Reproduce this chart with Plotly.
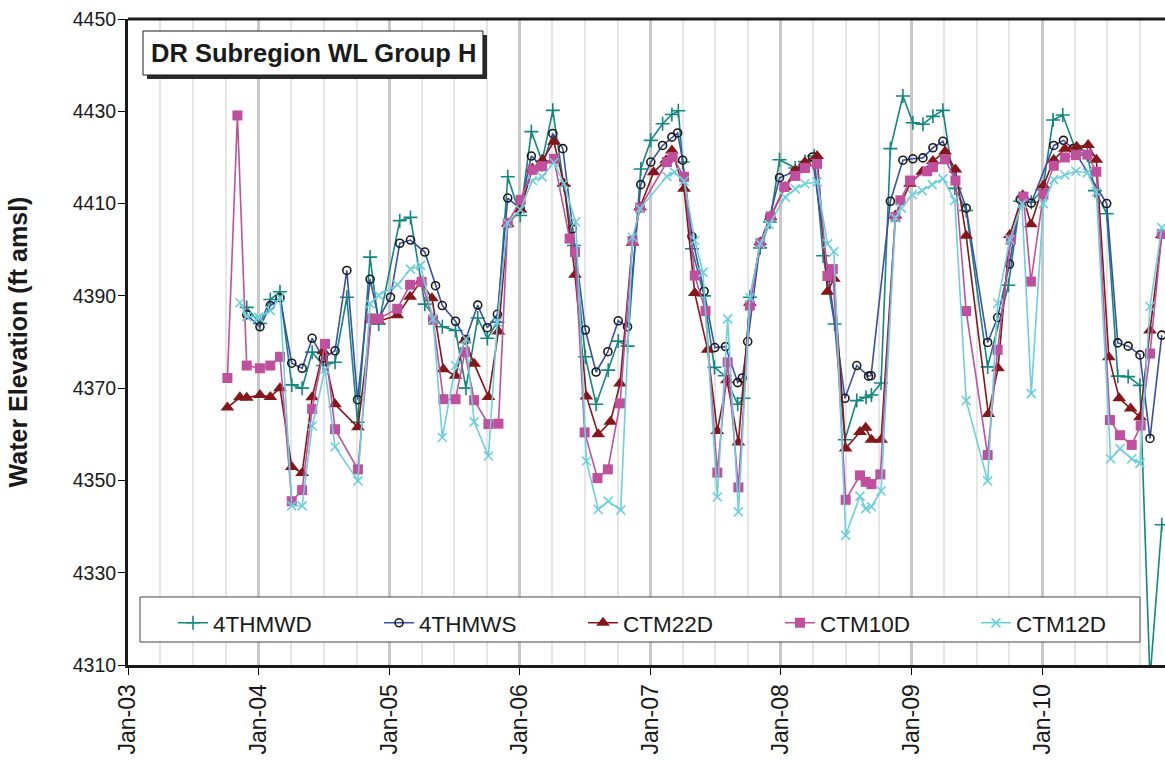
import plotly.graph_objects as go

# ---- 4THMWD ----
d_4thmwd = ["2003-11-29", "2004-01-05", "2004-02-03", "2004-03-01", "2004-04-03", "2004-05-02",
            "2004-05-30", "2004-06-30", "2004-08-02", "2004-09-04", "2004-10-04", "2004-11-08",
            "2004-12-02", "2005-01-30", "2005-03-01", "2005-04-10", "2005-05-29", "2005-07-05",
            "2005-08-03", "2005-09-05", "2005-10-02", "2005-10-30", "2005-11-28", "2006-01-02",
            "2006-02-02", "2006-03-04", "2006-04-03", "2006-05-04", "2006-06-01", "2006-07-03",
            "2006-08-02", "2006-09-05", "2006-10-03", "2006-10-29", "2006-12-05", "2007-01-02",
            "2007-02-04", "2007-03-02", "2007-03-20", "2007-04-01", "2007-04-27", "2007-05-31",
            "2007-06-29", "2007-07-28", "2007-09-02", "2007-09-18", "2007-10-06", "2007-11-04",
            "2007-12-01", "2007-12-28", "2008-02-10", "2008-03-08", "2008-04-03", "2008-04-28",
            "2008-05-30", "2008-06-28", "2008-07-31", "2008-08-26", "2008-09-10", "2008-10-07",
            "2008-11-02", "2008-12-07", "2009-01-04", "2009-02-01", "2009-03-01", "2009-03-29",
            "2009-05-01", "2009-06-02", "2009-08-01", "2009-09-28", "2009-10-31", "2009-12-01",
            "2010-01-02", "2010-01-31", "2010-02-27", "2010-04-05", "2010-05-07", "2010-05-28",
            "2010-06-30", "2010-07-31", "2010-08-29", "2010-10-01", "2010-10-29", "2010-12-01"]
v_4thmwd = [4387.5, 4384.0, 4389.2, 4390.9, 4370.7, 4370.0,
            4377.8, 4374.9, 4375.6, 4389.7, 4362.6, 4398.4,
            4383.9, 4406.3, 4407.0, 4388.2, 4383.3, 4382.5,
            4370.0, 4385.2, 4380.8, 4384.3, 4415.8, 4407.4,
            4425.6, 4419.2, 4430.2, 4413.9, 4400.9, 4376.8,
            4366.5, 4373.9, 4380.2, 4379.1, 4417.5, 4423.7,
            4427.3, 4429.3, 4430.1, 4419.0, 4400.2, 4390.0,
            4374.5, 4372.7, 4366.5, 4367.8, 4389.7, 4400.4,
            4406.0, 4419.5, 4417.7, 4419.1, 4420.3, 4398.7,
            4383.9, 4358.8, 4367.3, 4368.0, 4368.5, 4371.1,
            4421.9, 4433.3, 4427.5, 4427.2, 4428.9, 4430.2,
            4413.3, 4408.5, 4374.6, 4392.3, 4410.5, 4410.3,
            4413.0, 4428.1, 4429.2, 4421.5, 4420.5, 4412.8,
            4407.8, 4372.6, 4372.5, 4370.6, 4307.0, 4340.4]

# ---- 4THMWS ----
d_4thmws = ["2003-11-29", "2004-01-05", "2004-02-03", "2004-03-01", "2004-04-03", "2004-05-02",
            "2004-05-30", "2004-06-30", "2004-08-02", "2004-09-04", "2004-10-04", "2004-11-08",
            "2004-12-02", "2005-01-04", "2005-01-30", "2005-03-01", "2005-04-10", "2005-05-10",
            "2005-05-29", "2005-07-05", "2005-08-02", "2005-09-05", "2005-10-02", "2005-10-30",
            "2005-11-28", "2006-01-02", "2006-02-02", "2006-03-04", "2006-04-03", "2006-05-01",
            "2006-05-28", "2006-07-03", "2006-08-02", "2006-09-04", "2006-10-03", "2006-10-29",
            "2006-12-05", "2007-01-02", "2007-02-04", "2007-03-02", "2007-03-18", "2007-04-01",
            "2007-04-27", "2007-05-31", "2007-06-30", "2007-07-30", "2007-09-02", "2007-09-15",
            "2007-09-30", "2007-11-04", "2007-12-01", "2007-12-28", "2008-02-10", "2008-03-08",
            "2008-03-29", "2008-06-28", "2008-07-31", "2008-09-02", "2008-09-09", "2008-11-02",
            "2008-12-07", "2009-01-04", "2009-02-01", "2009-03-01", "2009-03-29", "2009-06-02",
            "2009-08-01", "2009-08-29", "2009-10-01", "2009-10-31", "2009-12-01", "2010-02-02",
            "2010-03-01", "2010-03-28", "2010-06-30", "2010-07-31", "2010-08-29", "2010-10-01",
            "2010-10-29", "2010-12-01"]
v_4thmws = [4385.9, 4383.3, 4387.9, 4389.6, 4375.4, 4374.3,
            4380.8, 4376.5, 4378.1, 4395.5, 4367.5, 4393.6,
            4385.0, 4389.7, 4401.4, 4402.1, 4399.5, 4392.2,
            4387.9, 4384.5, 4380.5, 4388.0, 4383.1, 4386.0,
            4411.2, 4408.9, 4420.3, 4418.0, 4425.2, 4421.9,
            4404.5, 4382.6, 4373.5, 4377.9, 4384.6, 4383.3,
            4414.1, 4419.0, 4422.6, 4424.4, 4425.3, 4419.4,
            4402.9, 4391.0, 4378.8, 4379.0, 4371.2, 4372.2,
            4380.1, 4401.3, 4407.2, 4415.6, 4417.0, 4418.5,
            4420.1, 4367.8, 4374.9, 4372.6, 4372.7, 4410.5,
            4419.4, 4419.7, 4419.9, 4422.1, 4423.5, 4409.0,
            4379.9, 4385.3, 4396.9, 4410.9, 4410.1, 4422.6,
            4423.7, 4421.9, 4410.0, 4379.8, 4379.1, 4377.2,
            4359.1, 4381.5]

# ---- CTM22D ----
d_ctm22d = ["2003-10-06", "2003-11-10", "2003-11-29", "2004-01-05", "2004-02-03", "2004-03-01",
            "2004-04-03", "2004-05-02", "2004-05-30", "2004-06-30", "2004-08-02", "2004-10-05",
            "2004-11-11", "2004-12-02", "2005-01-23", "2005-02-28", "2005-03-29", "2005-04-30",
            "2005-06-01", "2005-07-05", "2005-07-31", "2005-08-26", "2005-10-05", "2005-11-02",
            "2005-11-28", "2006-01-03", "2006-02-05", "2006-03-05", "2006-04-06", "2006-05-04",
            "2006-06-04", "2006-07-06", "2006-08-08", "2006-09-11", "2006-10-08", "2006-11-12",
            "2006-12-03", "2007-01-10", "2007-02-14", "2007-03-02", "2007-04-05", "2007-05-05",
            "2007-06-10", "2007-07-07", "2007-08-03", "2007-09-04", "2007-10-06", "2007-11-04",
            "2007-12-03", "2008-01-13", "2008-02-10", "2008-03-08", "2008-04-11", "2008-05-10",
            "2008-05-28", "2008-06-30", "2008-08-09", "2008-08-25", "2008-09-10", "2008-10-07",
            "2008-11-16", "2008-12-27", "2009-01-30", "2009-03-01", "2009-04-04", "2009-05-03",
            "2009-06-02", "2009-08-03", "2009-08-30", "2009-10-02", "2009-11-07", "2009-11-30",
            "2010-01-04", "2010-02-02", "2010-03-05", "2010-04-07", "2010-05-09", "2010-06-01",
            "2010-07-06", "2010-08-04", "2010-09-05", "2010-10-01", "2010-10-29", "2010-12-01"]
v_ctm22d = [4365.8, 4368.0, 4367.9, 4368.5, 4368.1, 4370.0,
            4352.9, 4351.6, 4368.0, 4378.0, 4366.5, 4361.5,
            4385.0, 4384.5, 4385.8, 4389.8, 4393.1, 4389.5,
            4374.1, 4372.7, 4380.4, 4375.3, 4368.1, 4382.3,
            4405.6, 4408.7, 4417.6, 4419.4, 4423.4, 4414.3,
            4394.6, 4368.2, 4360.0, 4362.7, 4371.0, 4401.5,
            4409.2, 4416.8, 4419.4, 4421.5, 4413.2, 4390.6,
            4378.3, 4360.7, 4371.7, 4358.2, 4388.5, 4401.6,
            4407.1, 4413.6, 4417.2, 4419.0, 4420.3, 4390.9,
            4393.7, 4356.9, 4360.5, 4361.4, 4358.8, 4358.8,
            4407.4, 4414.3, 4416.9, 4419.2, 4421.3, 4417.4,
            4403.0, 4364.4, 4374.3, 4403.2, 4411.8, 4405.5,
            4413.9, 4419.5, 4421.9, 4422.3, 4422.7, 4419.5,
            4376.7, 4367.8, 4365.6, 4363.7, 4382.5, 4403.2]

# ---- CTM10D ----
d_ctm10d = ["2003-10-06", "2003-11-03", "2003-11-29", "2004-01-05", "2004-02-03", "2004-03-01",
            "2004-04-03", "2004-05-02", "2004-05-30", "2004-07-05", "2004-08-02", "2004-10-05",
            "2004-11-11", "2004-12-02", "2005-01-23", "2005-02-28", "2005-04-01", "2005-05-03",
            "2005-06-01", "2005-07-05", "2005-07-31", "2005-08-26", "2005-10-05", "2005-11-02",
            "2005-11-28", "2006-01-03", "2006-02-05", "2006-03-04", "2006-04-06", "2006-05-20",
            "2006-06-04", "2006-07-01", "2006-08-06", "2006-09-04", "2006-10-08", "2006-11-12",
            "2006-12-03", "2007-02-16", "2007-03-04", "2007-04-05", "2007-05-05", "2007-06-04",
            "2007-07-07", "2007-08-05", "2007-09-04", "2007-10-06", "2007-11-04", "2007-12-03",
            "2008-01-11", "2008-02-10", "2008-03-08", "2008-04-11", "2008-05-10", "2008-05-25",
            "2008-06-30", "2008-08-09", "2008-08-25", "2008-09-10", "2008-10-05", "2008-11-16",
            "2008-11-30", "2008-12-27", "2009-02-13", "2009-03-01", "2009-04-04", "2009-05-03",
            "2009-06-02", "2009-08-01", "2009-08-29", "2009-10-05", "2009-11-09", "2009-11-30",
            "2010-01-04", "2010-02-02", "2010-03-05", "2010-04-05", "2010-05-07", "2010-06-01",
            "2010-07-09", "2010-08-06", "2010-09-08", "2010-10-03", "2010-10-29", "2010-12-01"]
v_ctm10d = [4372.2, 4429.1, 4374.9, 4374.3, 4374.9, 4376.8,
            4345.5, 4347.9, 4365.5, 4379.6, 4361.1, 4352.4,
            4385.1, 4385.0, 4387.2, 4392.4, 4393.0, 4384.8,
            4367.6, 4367.6, 4377.8, 4367.4, 4362.2, 4362.3,
            4405.8, 4410.8, 4417.3, 4418.1, 4419.7, 4402.4,
            4399.5, 4360.4, 4350.5, 4352.4, 4366.7, 4401.9,
            4409.1, 4419.0, 4420.1, 4415.8, 4394.4, 4386.7,
            4351.7, 4375.6, 4348.5, 4387.9, 4401.4, 4407.2,
            4413.6, 4416.0, 4417.7, 4418.6, 4394.3, 4395.8,
            4345.8, 4351.1, 4349.7, 4349.2, 4351.3, 4407.1,
            4410.7, 4415.0, 4417.0, 4417.9, 4419.6, 4415.0,
            4386.7, 4355.5, 4378.3, 4402.2, 4411.5, 4393.1,
            4412.0, 4418.2, 4420.0, 4420.5, 4420.6, 4416.9,
            4363.1, 4359.8, 4357.7, 4361.9, 4377.5, 4403.4]

# ---- CTM12D ----
d_ctm12d = ["2003-11-10", "2003-11-29", "2004-01-01", "2004-02-03", "2004-03-01", "2004-04-03",
            "2004-05-02", "2004-05-30", "2004-07-05", "2004-08-02", "2004-10-05", "2004-11-08",
            "2004-12-02", "2005-01-24", "2005-03-01", "2005-03-29", "2005-05-03", "2005-05-29",
            "2005-07-05", "2005-08-03", "2005-08-26", "2005-10-05", "2005-10-30", "2005-11-27",
            "2006-01-02", "2006-02-05", "2006-03-04", "2006-04-06", "2006-05-04", "2006-06-06",
            "2006-07-06", "2006-08-08", "2006-09-05", "2006-10-10", "2006-11-12", "2006-12-03",
            "2007-02-16", "2007-03-09", "2007-04-05", "2007-05-05", "2007-05-28", "2007-07-07",
            "2007-08-05", "2007-09-04", "2007-10-06", "2007-11-04", "2007-11-29", "2008-01-13",
            "2008-02-10", "2008-03-08", "2008-04-11", "2008-05-10", "2008-05-28", "2008-06-30",
            "2008-08-09", "2008-08-25", "2008-09-10", "2008-10-07", "2008-11-16", "2008-12-03",
            "2009-01-02", "2009-01-30", "2009-02-27", "2009-03-29", "2009-05-01", "2009-06-02",
            "2009-08-01", "2009-08-29", "2009-10-02", "2009-11-05", "2009-12-01", "2010-01-04",
            "2010-02-02", "2010-03-05", "2010-04-05", "2010-05-07", "2010-06-01", "2010-07-11",
            "2010-08-06", "2010-09-08", "2010-10-01", "2010-10-29", "2010-12-01"]
v_ctm12d = [4388.5, 4385.5, 4385.4, 4386.8, 4389.6, 4344.5,
            4344.5, 4361.8, 4374.1, 4357.3, 4349.9, 4388.3,
            4390.1, 4392.4, 4395.8, 4396.6, 4385.0, 4359.3,
            4374.9, 4380.7, 4362.7, 4355.3, 4384.3, 4405.8,
            4408.7, 4415.0, 4415.8, 4418.9, 4414.3, 4406.0,
            4354.2, 4343.7, 4345.5, 4343.6, 4402.7, 4408.9,
            4415.9, 4416.8, 4414.9, 4402.0, 4395.1, 4346.4,
            4385.0, 4343.2, 4389.6, 4401.3, 4405.5, 4411.4,
            4413.2, 4414.3, 4414.7, 4401.3, 4399.6, 4338.1,
            4346.6, 4343.9, 4344.3, 4347.7, 4406.9, 4409.0,
            4411.9, 4412.8, 4414.1, 4415.4, 4410.7, 4367.3,
            4349.9, 4388.4, 4402.2, 4410.0, 4368.8, 4410.0,
            4415.2, 4416.2, 4417.0, 4416.7, 4412.5, 4354.7,
            4356.9, 4354.7, 4353.7, 4387.7, 4404.8]

FONT = "Arial, Liberation Sans, sans-serif"
INK = "#1a1a1a"

fig = go.Figure()

fig.add_trace(go.Scatter(
    x=d_4thmwd, y=v_4thmwd, name="4THMWD", mode="lines+markers", legend="legend",
    line=dict(color="#12877f", width=1.6),
    marker=dict(symbol="cross-thin", size=10, color="#12877f",
                line=dict(color="#12877f", width=1.6))))
fig.add_trace(go.Scatter(
    x=d_4thmws, y=v_4thmws, name="4THMWS", mode="lines+markers", legend="legend2",
    line=dict(color="#3a50a6", width=1.6),
    marker=dict(symbol="circle-open", size=8, color=INK,
                line=dict(color=INK, width=1.6))))
fig.add_trace(go.Scatter(
    x=d_ctm22d, y=v_ctm22d, name="CTM22D", mode="lines+markers", legend="legend3",
    line=dict(color="#86161a", width=1.6),
    marker=dict(symbol="triangle-up", size=12, color="#86161a")))
fig.add_trace(go.Scatter(
    x=d_ctm10d, y=v_ctm10d, name="CTM10D", mode="lines+markers", legend="legend4",
    line=dict(color="#c04f9e", width=1.6),
    marker=dict(symbol="square", size=10, color="#c04f9e")))
fig.add_trace(go.Scatter(
    x=d_ctm12d, y=v_ctm12d, name="CTM12D", mode="lines+markers", legend="legend5",
    line=dict(color="#6ccfdc", width=1.6),
    marker=dict(symbol="x-thin", size=9, color="#6ccfdc",
                line=dict(color="#6ccfdc", width=1.6))))

fig.update_xaxes(
    type="date",
    range=["2003-01-01", "2010-12-10"],
    tick0="2003-01-01", dtick="M12", tickformat="%b-%y",
    tickangle=-90, ticks="outside", ticklen=7, tickcolor="#000",
    tickfont=dict(family=FONT, size=23, color=INK),
    showline=True, linecolor=INK, linewidth=3,
    showgrid=True, gridcolor="#c8c8c8", gridwidth=3,
    minor=dict(dtick="M3", tick0="2003-01-01", showgrid=True,
               gridcolor="#e6e6e6", gridwidth=1.5),
    zeroline=False,
)
fig.update_yaxes(
    range=[4310, 4450], tick0=4310, dtick=20,
    ticks="outside", ticklen=7, tickcolor="#000", ticklabelstandoff=-2,
    tickfont=dict(family=FONT, size=19.5, color=INK),
    showline=True, linecolor=INK, linewidth=3,
    showgrid=False, zeroline=False,
    title=dict(text="<b>Water Elevation (ft amsl)</b>", standoff=38,
               font=dict(family=FONT, size=25, color=INK)),
)

# frame top edge, title box shadow + box, legend box
shapes = [
    dict(type="line", xref="paper", yref="paper", x0=0, x1=1, y0=1, y1=1,
         line=dict(color=INK, width=3)),
    dict(type="rect", xref="paper", yref="paper",
         x0=0.01832, x1=0.3462, y0=0.9071, y1=0.9752,
         fillcolor="#2a2a2a", line=dict(width=0), layer="above"),
    dict(type="rect", xref="paper", yref="paper",
         x0=0.01446, x1=0.3423, y0=0.9133, y1=0.9814,
         fillcolor="#ffffff", line=dict(color=INK, width=1), layer="above"),
    dict(type="rect", xref="paper", yref="paper",
         x0=0.01157, x1=0.9759, y0=0.0356, y1=0.1053,
         fillcolor="#ffffff", line=dict(color="#444444", width=1), layer="above"),
]

legend_x = [0.0434, 0.2421, 0.4388, 0.6287, 0.8177]
legends = {}
for i, lx in enumerate(legend_x):
    key = "legend" if i == 0 else f"legend{i + 1}"
    legends[key] = dict(orientation="h", x=lx, y=0.098, xanchor="left", yanchor="top",
                        bgcolor="rgba(0,0,0,0)", borderwidth=0,
                        font=dict(family=FONT, size=22.5, color=INK))

fig.update_layout(
    width=1165, height=764,
    margin=dict(l=128, r=0, t=19, b=99),
    paper_bgcolor="#ffffff", plot_bgcolor="#ffffff",
    font=dict(family=FONT, color=INK),
    shapes=shapes,
    annotations=[dict(text="<b>DR Subregion WL Group H</b>", xref="paper", yref="paper",
                      x=0.1784, y=0.9474, xanchor="center", yanchor="middle",
                      showarrow=False, font=dict(family=FONT, size=25.5, color=INK))],
    showlegend=True,
    **legends,
)

fig.write_html("out.html")
